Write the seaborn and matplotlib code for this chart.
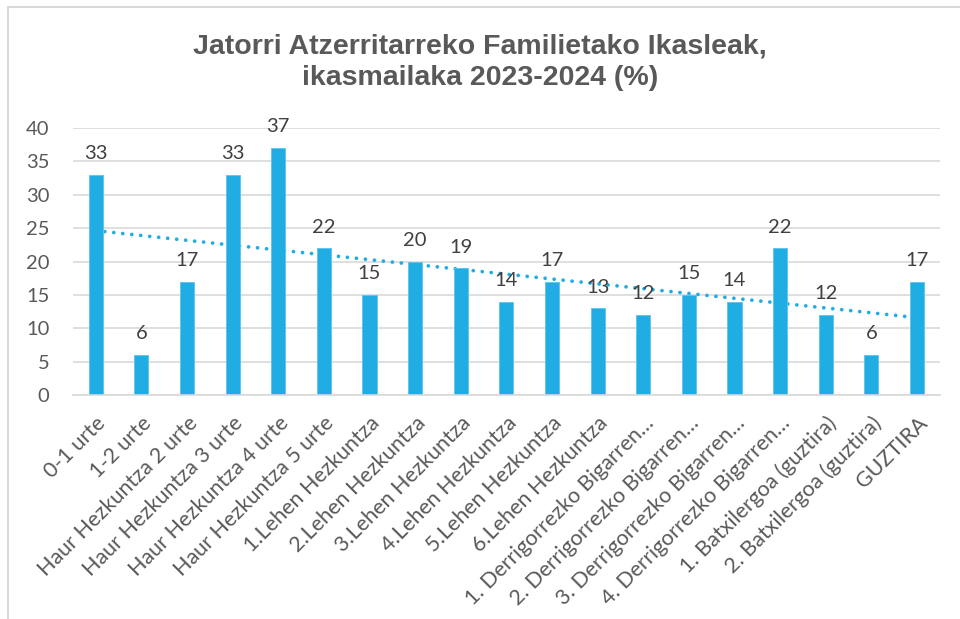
import numpy as np
import pandas as pd
import matplotlib.pyplot as plt
import seaborn as sns
from matplotlib.patches import Rectangle

# Data
categories = [
    "0-1 urte", "1-2 urte", "Haur Hezkuntza 2 urte", "Haur Hezkuntza 3 urte",
    "Haur Hezkuntza 4 urte", "Haur Hezkuntza 5 urte", "1.Lehen Hezkuntza",
    "2.Lehen Hezkuntza", "3.Lehen Hezkuntza", "4.Lehen Hezkuntza",
    "5.Lehen Hezkuntza", "6.Lehen Hezkuntza", "1. Derrigorrezko Bigarren…",
    "2. Derrigorrezko Bigarren…", "3. Derrigorrezko Bigarren…",
    "4. Derrigorrezko Bigarren…", "1. Batxilergoa (guztira)",
    "2. Batxilergoa (guztira)", "GUZTIRA",
]
values = [33, 6, 17, 33, 37, 22, 15, 20, 19, 14, 17, 13, 12, 15, 14, 22, 12, 6, 17]
yticks = [0, 5, 10, 15, 20, 25, 30, 35, 40]

title = "Jatorri Atzerritarreko Familietako Ikasleak,\nikasmailaka 2023-2024 (%)"
bar_color = "#1FADE4"

df = pd.DataFrame({"cat": categories, "val": values})
df["pos"] = np.arange(len(df))

sns.set_style("white")
plt.rcParams['font.family'] = ['Lato', 'DejaVu Sans']

fig = plt.figure(figsize=(9.6, 6.19), dpi=100)
ax = fig.add_axes([0.076, 0.362, 0.903, 0.431])

# Linear trendline (dotted), drawn below the bars
sns.regplot(data=df, x="pos", y="val", ax=ax, scatter=False, ci=None, truncate=True,
            line_kws=dict(color=bar_color, linestyle=(0, (0.01, 2.4)), linewidth=2.7,
                          dash_capstyle='round', zorder=1))

sns.barplot(data=df, x="cat", y="val", ax=ax, color=bar_color, width=0.31,
            saturation=1, edgecolor="#5EC3EC", linewidth=0.6, zorder=2)

for p, v in zip(df["pos"], df["val"]):
    ax.text(p, v + 1.9, str(v), ha='center', va='bottom', fontsize=14.5, color='#404040')

ax.set_ylim(0, 40)
ax.set_xlim(-0.5, len(categories) - 0.5)
ax.set_yticks(yticks)
ax.yaxis.grid(True, color='#D9D9D9', linewidth=1.2)
ax.set_axisbelow(True)
for s in ["top", "right", "left"]:
    ax.spines[s].set_visible(False)
ax.spines["bottom"].set_color('#D9D9D9')
ax.spines["bottom"].set_linewidth(1.2)
ax.tick_params(axis='both', length=0, labelsize=14.5, colors='#595959')
ax.tick_params(axis='y', pad=17)
ax.tick_params(axis='x', pad=13, labelsize=15.5)
ax.set_xticks(range(len(categories)))
ax.set_xticklabels(categories, rotation=45, ha='right', rotation_mode='anchor')
ax.set_xlabel("")
ax.set_ylabel("")

fig.text(0.5, 0.9, title, ha='center', va='center', fontsize=20.5, fontweight='bold',
         color='#595959', family=['Liberation Sans Narrow', 'Liberation Sans'],
         linespacing=1.28)

# light frame around the chart area
fig.patches.append(Rectangle((8 / 960, -0.05), 1.1, 1 - 7 / 619 + 0.05,
                             transform=fig.transFigure, fill=False,
                             edgecolor='#D9D9D9', linewidth=1.5))

fig.savefig("out.png", dpi=100)
